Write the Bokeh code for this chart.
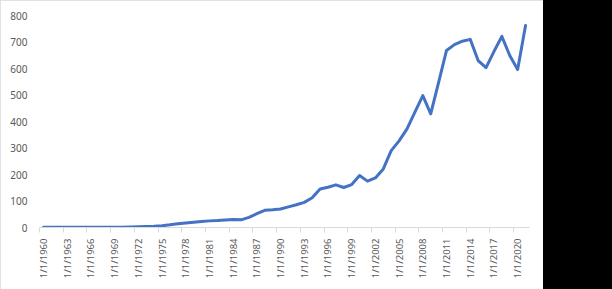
import math
from bokeh.plotting import figure
from bokeh.layouts import row
from bokeh.models import FixedTicker, Range1d, ColumnDataSource, Div
from bokeh.embed import file_html
from bokeh.resources import INLINE

years = list(range(1960, 2022))
values = [1, 1, 1, 1, 1, 1, 1, 1, 1, 1,
          1, 2, 3, 4, 5, 7, 10, 14, 17, 20,
          23, 25, 26, 28, 30, 29, 38, 52, 65, 67,
          70, 78, 86, 95, 112, 145, 152, 161, 151, 162,
          196, 175, 187, 221, 290, 327, 372, 435, 498, 429,
          548, 668, 690, 703, 710, 630, 603, 664, 721, 649,
          596, 762]
tick_years = list(range(1960, 2022, 3))
tick_labels = ["1/1/%d" % y for y in tick_years]
y_ticks = [0, 100, 200, 300, 400, 500, 600, 700, 800]

FONT = "Noto Sans"
GRAY = "#595959"

src = ColumnDataSource(dict(x=years, y=values))

p = figure(width=543, height=289, output_backend="svg", toolbar_location=None,
           x_range=Range1d(1959.5, 2021.5), y_range=Range1d(0, 800),
           min_border_left=39, min_border_right=14, min_border_top=15,
           min_border_bottom=62, background_fill_color="white",
           border_fill_color="white", outline_line_color=None,
           styles={"outline": "1px solid #d9d9d9", "outline-offset": "-1px"})
p.line("x", "y", source=src, line_color="#4472C4", line_width=3,
       line_join="round", line_cap="round")

p.xgrid.visible = False
p.ygrid.visible = False

xa = p.xaxis[0]
xa.ticker = FixedTicker(ticks=tick_years, minor_ticks=[t - 0.5 for t in tick_years])
xa.major_label_overrides = {t: l for t, l in zip(tick_years, tick_labels)}
xa.major_label_orientation = math.pi / 2
xa.axis_line_color = "#d9d9d9"
xa.axis_line_width = 1
xa.major_tick_line_color = None
xa.major_tick_out = 0
xa.major_tick_in = 0
xa.minor_tick_line_color = "#d9d9d9"
xa.minor_tick_out = 5
xa.minor_tick_in = 0
xa.major_label_standoff = 6
xa.major_label_text_font = FONT
xa.major_label_text_font_size = "9.5px"
xa.major_label_text_color = GRAY

ya = p.yaxis[0]
ya.ticker = FixedTicker(ticks=y_ticks)
ya.axis_line_color = None
ya.major_tick_line_color = None
ya.minor_tick_line_color = None
ya.major_tick_out = 0
ya.major_tick_in = 0
ya.major_label_standoff = 12
ya.major_label_text_font = FONT
ya.major_label_text_font_size = "10px"
ya.major_label_text_color = GRAY

side = Div(text="", width=69, height=289, margin=(0, 0, 0, 0),
           styles={"background-color": "black", "width": "69px", "height": "289px"})

layout = row(p, side, spacing=0)

open("out.html", "w").write(file_html(layout, INLINE))
